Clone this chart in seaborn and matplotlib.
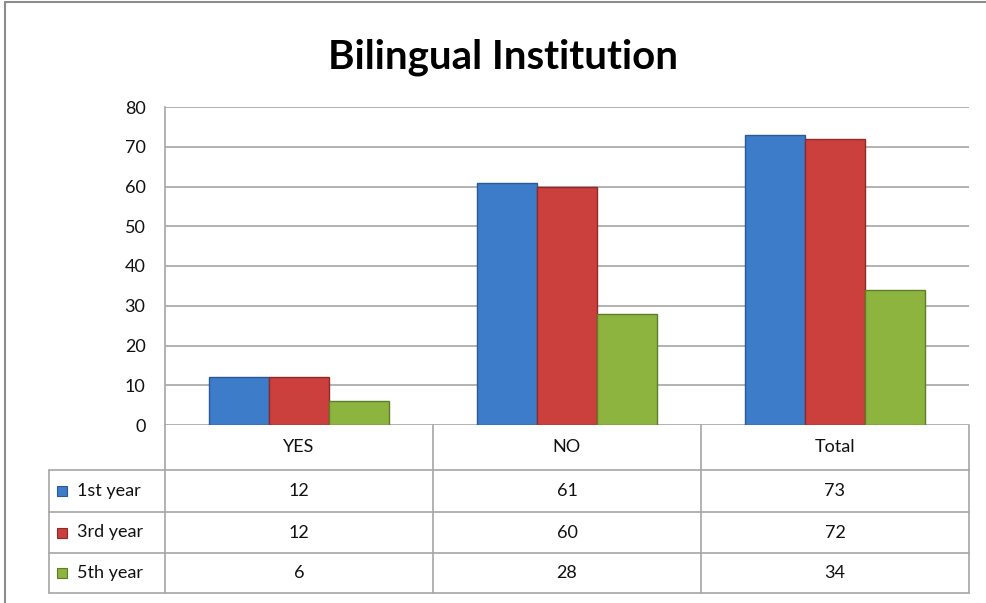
import pandas as pd
import numpy as np
import matplotlib.pyplot as plt
import seaborn as sns
from matplotlib.lines import Line2D
from matplotlib.patches import Rectangle

categories = ['YES', 'NO', 'Total']
years = ['1st year', '3rd year', '5th year']
first_year = [12, 61, 73]
third_year = [12, 60, 72]
fifth_year = [6, 28, 34]
colors = ['#3d7cc9', '#cb3f3c', '#8db43e']
edges = ['#2a5a95', '#8e2a28', '#5f7d26']

df = pd.DataFrame({'cat': categories * 3,
                   'year': np.repeat(years, 3),
                   'value': first_year + third_year + fifth_year})

sns.set_style('white')
plt.rcParams['font.family'] = ['Lato', 'DejaVu Sans']

W, H = 987, 603
fig = plt.figure(figsize=(9.87, 6.03), dpi=100)
# axes placed in pixel terms
x0, x1, y0, y1 = 165, 969, 107, 425
ax = fig.add_axes([x0 / W, 1 - y1 / H, (x1 - x0) / W, (y1 - y0) / H])

sns.barplot(data=df, x='cat', y='value', hue='year', palette=colors,
            saturation=1, width=0.668, gap=0, ax=ax, legend=False, zorder=3)

# darker edges per series
for i, cont in enumerate(ax.containers):
    for bar in cont:
        bar.set_edgecolor(edges[i])
        bar.set_linewidth(1.0)

ax.set_ylim(0, 80)
ax.set_yticks(range(0, 81, 10))
ax.set_xlim(-0.5, 2.5)
ax.yaxis.grid(True, color='#a6a6a6', linewidth=1.2, zorder=0)
ax.set_axisbelow(True)
for s in ['top', 'right', 'bottom']:
    ax.spines[s].set_visible(False)
ax.spines['left'].set_color('#a6a6a6')
ax.spines['left'].set_linewidth(1.2)
ax.set_xticks([])
ax.set_xlabel('')
ax.set_ylabel('')
ax.tick_params(axis='y', length=0, pad=14, labelsize=13, labelcolor='#111111')

fig.text(503 / W, 1 - 69 / H, 'Bilingual Institution', fontsize=29,
         fontweight='bold', ha='center', va='baseline', color='black')

# data table drawn in pixel coordinates on the figure
def px(x, y):
    return x / W, 1 - y / H

lc = '#a6a6a6'
col_edges = [165, 433, 701, 969]
row_edges = [425, 470, 512, 553, 593]
table_left = 49

def hline(xa, xb, y):
    fig.add_artist(Line2D([xa / W, xb / W], [1 - y / H, 1 - y / H], color=lc, lw=1.2))

def vline(x, ya, yb):
    fig.add_artist(Line2D([x / W, x / W], [1 - ya / H, 1 - yb / H], color=lc, lw=1.2))

for y in row_edges[1:]:
    hline(table_left, col_edges[-1], y)
for x in col_edges:
    vline(x, row_edges[0], row_edges[-1])
vline(table_left, row_edges[1], row_edges[-1])

for j, c in enumerate(categories):
    cx = (col_edges[j] + col_edges[j + 1]) / 2
    fig.text(*px(cx, (row_edges[0] + row_edges[1]) / 2), c,
             ha='center', va='center', fontsize=13, color='#111111')

series = [first_year, third_year, fifth_year]
for i, name in enumerate(years):
    cy = (row_edges[i + 1] + row_edges[i + 2]) / 2
    fig.add_artist(Rectangle(px(57, cy + 5), 10 / W, 10 / H,
                             facecolor=colors[i], edgecolor=edges[i], lw=0.8))
    fig.text(*px(77, cy), name, ha='left', va='center', fontsize=13, color='#111111')
    for j, v in enumerate(series[i]):
        cx = (col_edges[j] + col_edges[j + 1]) / 2
        fig.text(*px(cx, cy), str(v), ha='center', va='center',
                 fontsize=13, color='#111111')

# chart border (top and left visible)
fig.add_artist(Line2D([5 / W, 5 / W], [0, 1 - 2 / H], color='#8c8c8c', lw=1.5))
fig.add_artist(Line2D([5 / W, 1], [1 - 2 / H, 1 - 2 / H], color='#8c8c8c', lw=1.5))

fig.savefig('out.png', dpi=100)
